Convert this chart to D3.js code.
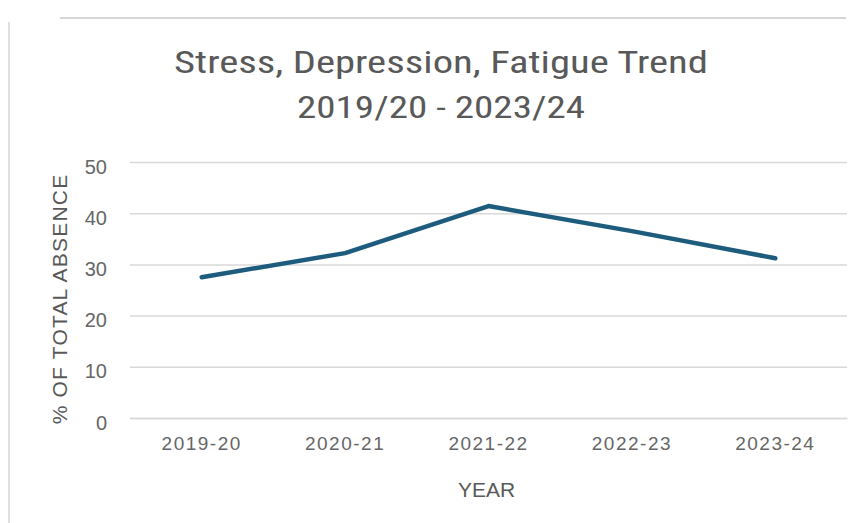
<!DOCTYPE html>
<html>
<head>
<meta charset="utf-8">
<script src="https://cdn.jsdelivr.net/npm/d3@7"></script>
<style>
  html, body { margin: 0; padding: 0; background: #ffffff; }
  svg { display: block; }
</style>
</head>
<body>
<svg id="chart" width="861" height="523"></svg>
<script>
// Share of total absence due to stress, depression and fatigue, per year
const years = ["2019-20", "2020-21", "2021-22", "2022-23", "2023-24"];
const absenceShare = [27.5, 32.2, 41.4, 36.5, 31.2];
const yTicks = [0, 10, 20, 30, 40, 50];
const titleLines = ["Stress, Depression, Fatigue Trend", "2019/20 - 2023/24"];

const svg = d3.select("#chart");
const W = 861, H = 523;
const m = { top: 162, right: 14, bottom: 105, left: 130 };
const innerW = W - m.left - m.right;
const innerH = H - m.top - m.bottom;

const textColor = "#595959";
const tickColor = "#666666";
const gridColor = "#d9d9d9";
const lineColor = "#1d5c7d";
const titleFont = "'Liberation Sans Narrow', 'Roboto Condensed', 'Liberation Sans', sans-serif";
const bodyFont = "'Liberation Sans', Arial, sans-serif";

// chart frame edges
svg.append("line")
  .attr("x1", 60).attr("x2", 846).attr("y1", 18).attr("y2", 18)
  .attr("stroke", "#d6d6d6").attr("stroke-width", 2);
svg.append("line")
  .attr("x1", 9).attr("x2", 9).attr("y1", 22).attr("y2", H)
  .attr("stroke", "#e0e0e0").attr("stroke-width", 2);

const x = d3.scaleBand().domain(years).range([m.left, m.left + innerW]);
const y = d3.scaleLinear().domain([0, 50]).range([m.top + innerH, m.top]);

// title, each line fitted to its set width
const titleWidths = [534, 288];
svg.append("g")
  .selectAll("text")
  .data(titleLines)
  .join("text")
  .attr("x", 441)
  .attr("y", (d, i) => 73 + i * 45)
  .attr("text-anchor", "middle")
  .attr("font-family", titleFont)
  .attr("font-size", 32)
  .attr("fill", textColor)
  .attr("textLength", (d, i) => titleWidths[i])
  .attr("lengthAdjust", "spacingAndGlyphs")
  .text(d => d);

// horizontal gridlines + y tick labels
const yAxis = d3.axisLeft(y).tickValues(yTicks).tickSize(-innerW).tickPadding(23);
const gy = svg.append("g")
  .attr("transform", `translate(${m.left},0)`)
  .call(yAxis);
gy.select(".domain").remove();
gy.selectAll(".tick line").attr("stroke", gridColor).attr("stroke-width", 1.5);
gy.selectAll(".tick text")
  .attr("fill", tickColor)
  .attr("font-family", bodyFont)
  .attr("font-size", 20)
  .attr("dy", "0.55em");

// x axis labels
const xAxis = d3.axisBottom(x).tickSize(0);
const gx = svg.append("g")
  .attr("transform", `translate(0,${m.top + innerH})`)
  .call(xAxis);
gx.select(".domain").attr("stroke", gridColor).attr("stroke-width", 1.5);
gx.selectAll(".tick text")
  .attr("y", 32)
  .attr("dy", 0)
  .attr("fill", tickColor)
  .attr("font-family", bodyFont)
  .attr("font-size", 19)
  .attr("letter-spacing", 1.5);

// axis titles
svg.append("text")
  .attr("transform", `translate(67,${m.top + innerH / 2 + 9}) rotate(-90)`)
  .attr("text-anchor", "middle")
  .attr("font-family", bodyFont)
  .attr("font-size", 21)
  .attr("letter-spacing", 1.2)
  .attr("fill", textColor)
  .text("% OF TOTAL ABSENCE");

svg.append("text")
  .attr("x", x("2021-22") + x.bandwidth() / 2 - 2)
  .attr("y", 497)
  .attr("text-anchor", "middle")
  .attr("font-family", bodyFont)
  .attr("font-size", 21)
  .attr("fill", textColor)
  .text("YEAR");

// trend line
const line = d3.line()
  .x((d, i) => x(years[i]) + x.bandwidth() / 2)
  .y(d => y(d));

svg.append("path")
  .datum(absenceShare)
  .attr("d", line)
  .attr("fill", "none")
  .attr("stroke", lineColor)
  .attr("stroke-width", 4.5)
  .attr("stroke-linejoin", "round")
  .attr("stroke-linecap", "round");
</script>
</body>
</html>
